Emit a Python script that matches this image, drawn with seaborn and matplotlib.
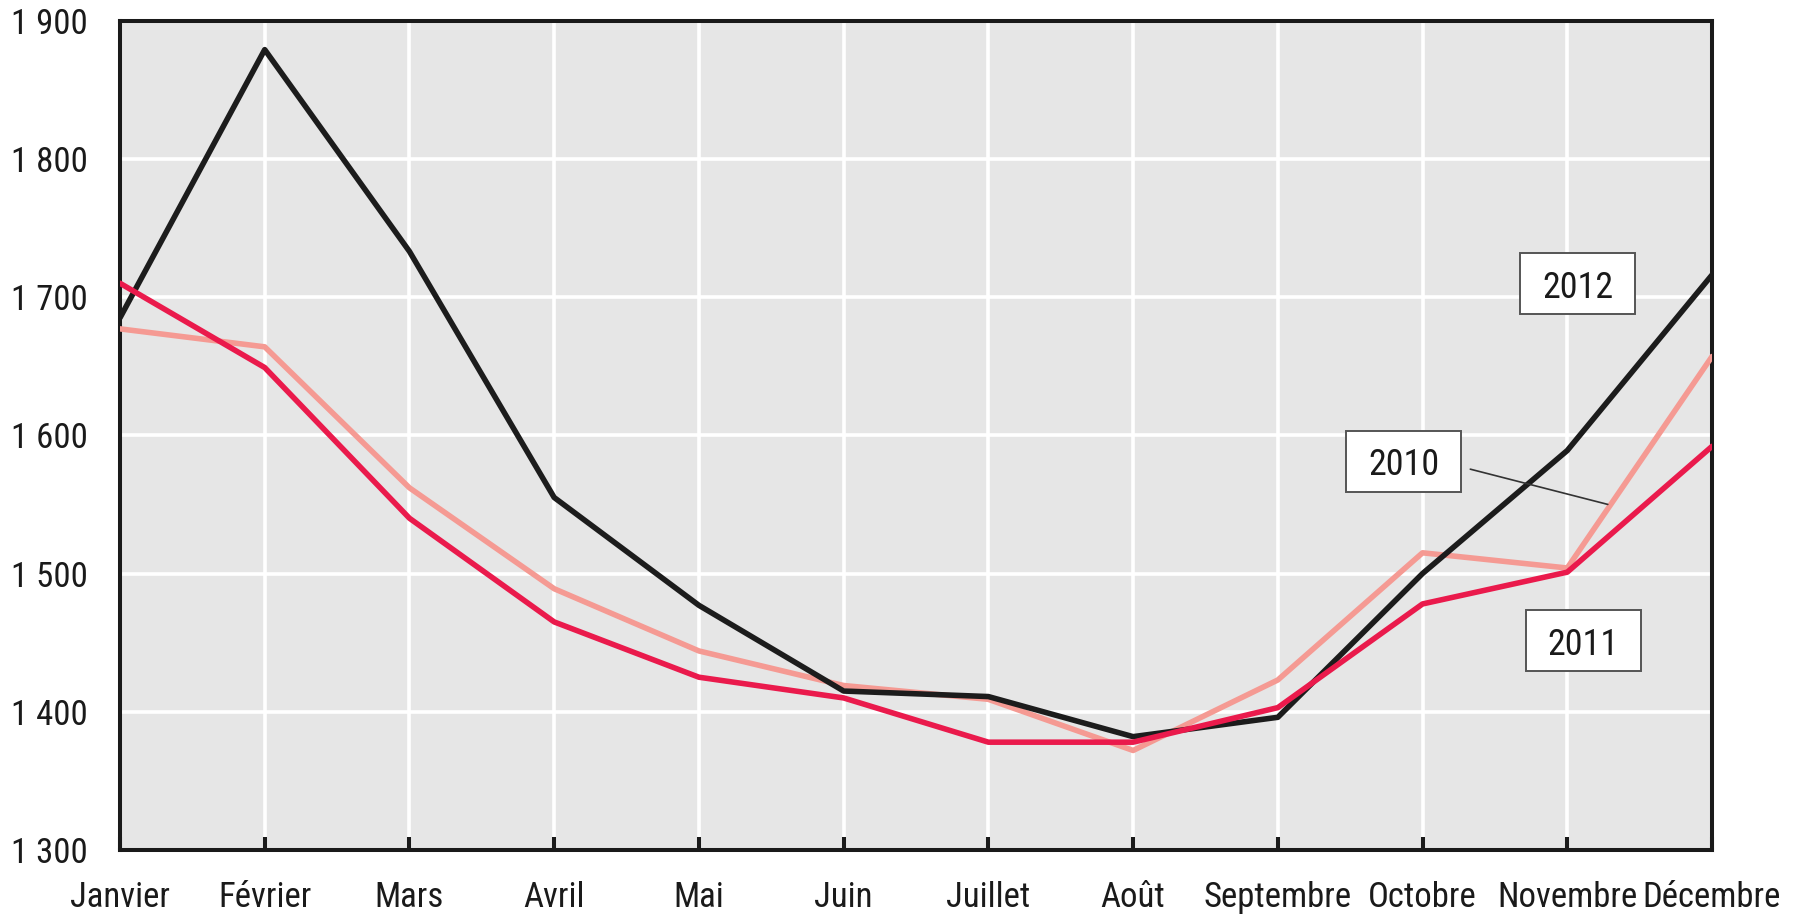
import matplotlib
matplotlib.use("Agg")
import matplotlib.pyplot as plt
from matplotlib import font_manager
from matplotlib.patches import Rectangle
import seaborn as sns
import pandas as pd

# Monthly values per year
months = ["Janvier", "Février", "Mars", "Avril", "Mai", "Juin", "Juillet",
          "Août", "Septembre", "Octobre", "Novembre", "Décembre"]
values_2010 = [1677, 1664, 1562, 1489, 1444, 1419, 1409, 1372, 1423, 1515, 1504, 1657]
values_2011 = [1710, 1649, 1540, 1465, 1425, 1410, 1378, 1378, 1403, 1478, 1501, 1592]
values_2012 = [1685, 1879, 1733, 1555, 1477, 1415, 1411, 1382, 1396, 1500, 1589, 1716]
years = ["2010", "2012", "2011"]
y_ticks = [1300, 1400, 1500, 1600, 1700, 1800, 1900]
y_tick_labels = ["1 300", "1 400", "1 500", "1 600", "1 700", "1 800", "1 900"]

colors = {"2010": "#f59a93", "2011": "#ea1a4c", "2012": "#1c1c1c"}

series = {"2010": values_2010, "2011": values_2011, "2012": values_2012}
df = pd.DataFrame(
    [{"mois": i, "annee": y, "valeur": v}
     for y in years for i, v in enumerate(series[y])]
)

sns.set_theme(style="white")
available = {f.name for f in font_manager.fontManager.ttflist}
family = next((f for f in ["Roboto Condensed", "Archivo Narrow", "PT Sans Narrow",
                           "Liberation Sans Narrow", "Liberation Sans"] if f in available),
              "DejaVu Sans")
plt.rcParams["font.family"] = [family, "DejaVu Sans"]

fig = plt.figure(figsize=(17.98, 9.15), dpi=100)
ax = fig.add_axes([120 / 1798, 1 - 850 / 915, (1712 - 120) / 1798, (850 - 20.6) / 915])
ax.set_facecolor("#e6e6e6")

sns.lineplot(data=df, x="mois", y="valeur", hue="annee", hue_order=years,
             palette=colors, linewidth=4.0, legend=False, ax=ax, zorder=3)

ax.set_xlim(0, 11)
ax.set_ylim(1300, 1900)
ax.set_xticks(range(12))
ax.set_xticklabels(months)
ax.set_yticks(y_ticks)
ax.set_yticklabels(y_tick_labels)
ax.set_xlabel("")
ax.set_ylabel("")

ax.grid(True, color="white", linewidth=2.6, zorder=1)
ax.set_axisbelow(True)
for s in ax.spines.values():
    s.set_color("#1a1a1a")
    s.set_linewidth(2.9)

ax.tick_params(axis="x", direction="in", length=9.5, width=2.9, color="#1a1a1a",
               labelsize=25, pad=22.5, labelcolor="#1a1a1a", bottom=True)
ax.tick_params(axis="y", length=0, labelsize=25, pad=23, labelcolor="#1a1a1a")

# Year labels in white boxes: (left, right, bottom, top) in data units
label_boxes = {
    "2012": (9.673, 10.468, 1687.7, 1731.9),
    "2010": (8.471, 9.266, 1559.0, 1603.1),
    "2011": (9.714, 10.509, 1429.5, 1473.6),
}
for name, (x0, x1, y0, y1) in label_boxes.items():
    ax.add_patch(Rectangle((x0, y0), x1 - x0, y1 - y0, facecolor="white",
                           edgecolor="#555555", linewidth=1.4, zorder=5))
    ax.text((x0 + x1) / 2, (y0 + y1) / 2, name, fontsize=26, ha="center",
            va="center_baseline", color="#1a1a1a", zorder=6)

ax.plot([9.33, 10.28], [1575.5, 1550], color="#333333", linewidth=1.2, zorder=4)

fig.savefig("out.png", dpi=100)
